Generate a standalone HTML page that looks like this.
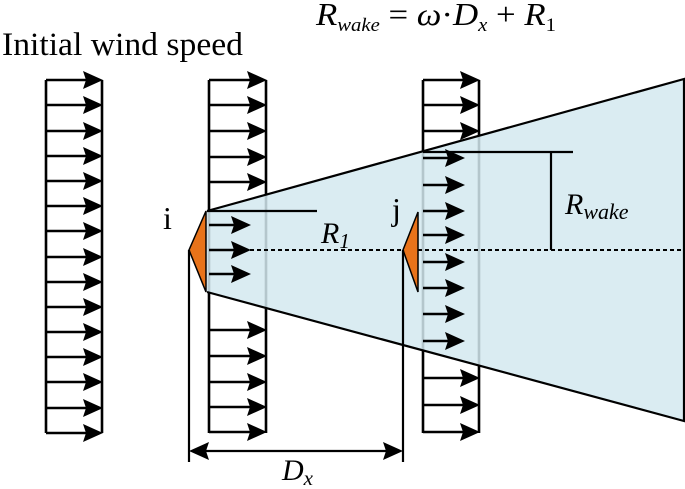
<!DOCTYPE html>
<html><head><style>html,body{margin:0;padding:0;background:#fff;}svg{display:block;}</style></head>
<body>
<svg width="685" height="489" viewBox="0 0 685 489" xmlns="http://www.w3.org/2000/svg">
<defs>
<path id="h" d="M1,0 L-19,-9 L-16,0 L-19,9 z" fill="#000"/>
<path id="hl" d="M-1,0 L19,-9 L16,0 L19,9 z" fill="#000"/>
</defs>
<g stroke="#000" stroke-width="2.6" fill="none">
<path d="M46,80 V433 M102,80 V433"/>
<path d="M46,80H88M46,105H88M46,131H88M46,156H88M46,181H88M46,206H88M46,231H88M46,257H88M46,282H88M46,307H88M46,332H88M46,357H88M46,382H88M46,408H88M46,433H88"/>
<path d="M209,80 V433 M266,80 V433"/>
<path d="M209,80H252M209,105H252M209,131H252M209,157H252M209,182H252M209,330H252M209,356H252M209,382H252M209,407H252M209,432H252"/>
<path d="M423,80 V433 M479,80 V433"/>
<path d="M423,80H465M423,105H465M423,131H465M423,378H465M423,405H465M423,432H465"/>
</g>
<g>
<use href="#h" x="102" y="80"/><use href="#h" x="102" y="105"/><use href="#h" x="102" y="131"/><use href="#h" x="102" y="156"/><use href="#h" x="102" y="181"/><use href="#h" x="102" y="206"/><use href="#h" x="102" y="231"/><use href="#h" x="102" y="257"/><use href="#h" x="102" y="282"/><use href="#h" x="102" y="307"/><use href="#h" x="102" y="332"/><use href="#h" x="102" y="357"/><use href="#h" x="102" y="382"/><use href="#h" x="102" y="408"/><use href="#h" x="102" y="433"/>
<use href="#h" x="266" y="80"/><use href="#h" x="266" y="105"/><use href="#h" x="266" y="131"/><use href="#h" x="266" y="157"/><use href="#h" x="266" y="182"/><use href="#h" x="266" y="330"/><use href="#h" x="266" y="356"/><use href="#h" x="266" y="382"/><use href="#h" x="266" y="407"/><use href="#h" x="266" y="432"/>
<use href="#h" x="479" y="80"/><use href="#h" x="479" y="105"/><use href="#h" x="479" y="131"/><use href="#h" x="479" y="378"/><use href="#h" x="479" y="405"/><use href="#h" x="479" y="432"/>
</g>
<polygon points="207,211 684,79 684,421 207,292" fill="#d3e9f0" fill-opacity="0.85"/>
<path d="M207,211 L684,79 V421 L207,292" stroke="#000" stroke-width="2.2" fill="none"/>
<g stroke="#000" stroke-width="2.6">
<path d="M209,225H236M209,250H236M209,274H236"/>
<path d="M423,158H450M423,185H450M423,211H450M423,235H450M423,262H450M423,288H450M423,314H450M423,341H450"/>
</g>
<g>
<use href="#h" x="250" y="225"/><use href="#h" x="250" y="250"/><use href="#h" x="250" y="274"/>
<use href="#h" x="464" y="158"/><use href="#h" x="464" y="185"/><use href="#h" x="464" y="211"/><use href="#h" x="464" y="235"/><use href="#h" x="464" y="262"/><use href="#h" x="464" y="288"/><use href="#h" x="464" y="314"/><use href="#h" x="464" y="341"/>
</g>
<line x1="250" y1="250" x2="684" y2="250" stroke="#000" stroke-width="2" stroke-dasharray="4,3"/>
<polygon points="206,211 189,250 206,292" fill="#e8731a" stroke="#000" stroke-width="1.5"/>
<polygon points="418,212 403,250 418,292" fill="#e8731a" stroke="#000" stroke-width="1.5"/>
<g stroke="#000" stroke-width="2.2" fill="none">
<path d="M207,211 H317"/>
<path d="M423,152 H573 M551,152 V250"/>
<path d="M189,250 V462 M403,250 V462"/>
<path d="M200,451 H392"/>
</g>
<use href="#hl" x="190" y="451"/><use href="#h" x="402" y="451"/>
<g font-family="Liberation Serif, serif" fill="#000">
<text x="2" y="55" font-size="33" textLength="241" lengthAdjust="spacingAndGlyphs">Initial wind speed</text>
<text x="163" y="229" font-size="32">i</text>
<text x="392" y="220" font-size="32">j</text>
<text x="321" y="243" font-size="30" font-style="italic">R<tspan font-size="21" dy="5">1</tspan></text>
<text x="565" y="214" font-size="30" font-style="italic">R<tspan font-size="22" dy="5">wake</tspan></text>
<text x="282" y="480" font-size="30" font-style="italic">D<tspan font-size="21" dy="5">x</tspan></text>
<text x="316" y="25" font-size="32" font-style="italic" textLength="240" lengthAdjust="spacingAndGlyphs">R<tspan font-size="19" dy="6">wake</tspan><tspan dy="-6" font-style="normal"> = </tspan>ω<tspan font-style="normal">·</tspan>D<tspan font-size="19" dy="6">x</tspan><tspan dy="-6" font-style="normal"> + </tspan>R<tspan font-size="19" dy="6" font-style="normal">1</tspan></text>
</g>
</svg>
</body></html>
